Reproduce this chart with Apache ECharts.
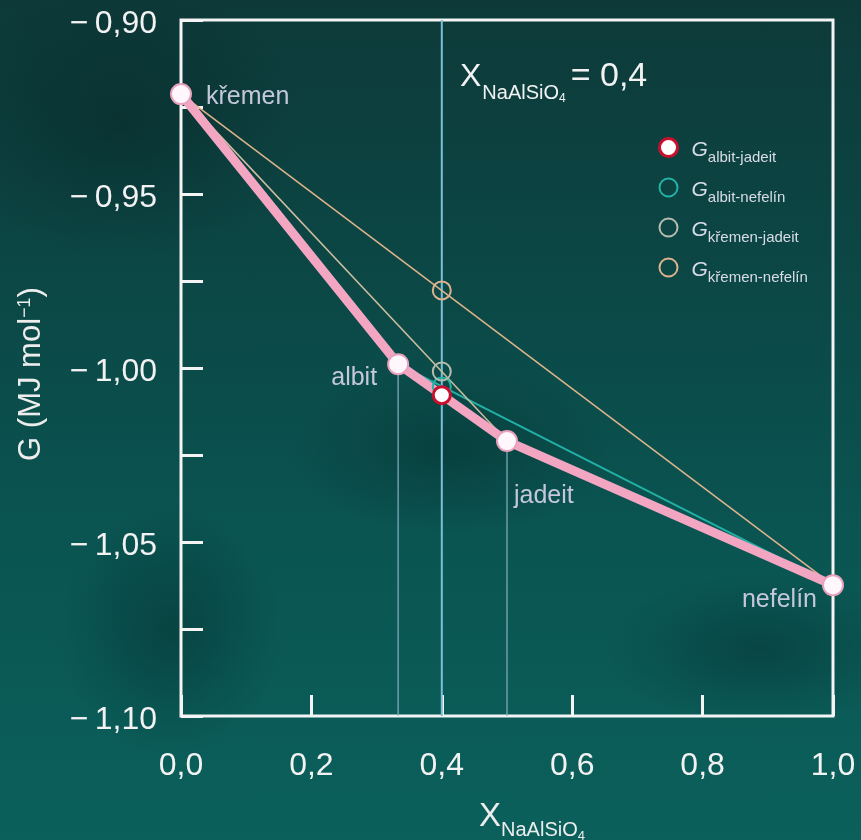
<!DOCTYPE html>
<html>
<head>
<meta charset="utf-8">
<script src="https://cdn.jsdelivr.net/npm/echarts@6/dist/echarts.min.js"></script>
<style>
html,body{margin:0;padding:0;}
body{
  width:861px;height:840px;overflow:hidden;
  background:
    radial-gradient(ellipse 230px 120px at 450px 450px, rgba(0,28,28,0.30), rgba(0,28,28,0) 70%),
    radial-gradient(ellipse 160px 180px at 170px 630px, rgba(0,25,25,0.32), rgba(0,25,25,0) 70%),
    radial-gradient(ellipse 220px 110px at 760px 650px, rgba(0,25,25,0.30), rgba(0,25,25,0) 70%),
    radial-gradient(ellipse 260px 200px at 120px 120px, rgba(5,30,30,0.40), rgba(5,30,30,0) 70%),
    linear-gradient(180deg, #0d3a39 0%, #0b4846 35%, #0a5552 65%, #0b605c 100%);
}
#chart{width:861px;height:840px;}
</style>
</head>
<body>
<div id="chart"></div>
<script>
// ---- data ----
const minerals   = ['křemen', 'albit', 'jadeit', 'nefelín'];
const mineralX   = [0, 0.333, 0.5, 1.0];
const mineralG   = [-0.9213, -0.9989, -1.0210, -1.0624];
const selectedX  = 0.4;
const gNames     = ['albit-jadeit', 'albit-nefelín', 'křemen-jadeit', 'křemen-nefelín'];
const gValues    = [-1.0078, -1.0053, -1.0010, -0.9777];
const tieLines   = [[1, 3], [0, 2], [0, 3]]; // albit–nefelín, křemen–jadeit, křemen–nefelín
const dropLines  = [1, 2];                     // albit, jadeit
const xTickValues = [0, 0.2, 0.4, 0.6, 0.8, 1.0];
const xTickLabels = ['0,0', '0,2', '0,4', '0,6', '0,8', '1,0'];
const yTickValues = [-1.10, -1.05, -1.00, -0.95, -0.90];
const yTickLabels = ['−\u20091,10', '−\u20091,05', '−\u20091,00', '−\u20090,95', '−\u20090,90'];

// ---- styles ----
const FONT = "'Liberation Sans', Arial, Helvetica, sans-serif";
const Y_MIN = -1.10, Y_MAX = -0.90;
const gBorder = ['#C8102E', '#23B3A7', '#B7BCB0', '#DDB38D'];
const gFill   = ['#FFFFFF', 'rgba(0,0,0,0)', 'rgba(0,0,0,0)', 'rgba(0,0,0,0)'];
const gBorderW = [3, 2, 2, 2];
const gZ = [9, 6, 7, 8];
const tieColors = ['#22B0A5', '#CDBF9F', '#E0B48C'];
const tieWidths = [2, 1.5, 1.5];
const labelPos = [
  {position: [36, 14], align: 'left',  verticalAlign: 'middle'},
  {position: [-10, 25], align: 'right', verticalAlign: 'middle'},
  {position: [18, 66], align: 'left',  verticalAlign: 'middle'},
  {position: [-5, 26], align: 'right', verticalAlign: 'middle'}
];

function findLabel(values, labels, v) {
  for (let i = 0; i < values.length; i++) {
    if (Math.abs(values[i] - v) < 1e-6) return labels[i];
  }
  return '';
}

const series = [];

// vertical line at selected composition
series.push({
  type: 'line', name: 'sel', z: 1, silent: true, symbol: 'none',
  lineStyle: {color: '#7DBFD9', width: 2},
  data: [[selectedX, Y_MAX], [selectedX, Y_MIN]]
});

// drop lines
dropLines.forEach(function (i) {
  series.push({
    type: 'line', name: 'drop' + i, z: 1, silent: true, symbol: 'none',
    lineStyle: {color: '#86AFC2', width: 1.2},
    data: [[mineralX[i], mineralG[i]], [mineralX[i], Y_MIN]]
  });
});

// tie lines
tieLines.forEach(function (p, k) {
  series.push({
    type: 'line', name: 'tie' + k, z: 2, silent: true, symbol: 'none',
    lineStyle: {color: tieColors[k], width: tieWidths[k]},
    data: [[mineralX[p[0]], mineralG[p[0]]], [mineralX[p[1]], mineralG[p[1]]]]
  });
});

// convex hull (pink) with mineral points
series.push({
  type: 'line', name: 'hull', z: 4, silent: true,
  symbol: 'circle', symbolSize: 20,
  lineStyle: {color: '#F2A6C1', width: 9, join: 'round'},
  itemStyle: {color: '#FFF7FB', borderColor: '#E9A2BD', borderWidth: 2},
  label: {show: true, color: '#C4C8DA', fontSize: 25, fontFamily: FONT},
  data: minerals.map(function (m, i) {
    return {
      value: [mineralX[i], mineralG[i]],
      name: m,
      label: Object.assign({formatter: m}, labelPos[i])
    };
  })
});

// G markers at selected composition
gNames.forEach(function (n, i) {
  series.push({
    type: 'scatter', name: n, z: gZ[i], silent: true,
    symbol: 'circle', symbolSize: i === 0 ? 17 : 18,
    itemStyle: {color: gFill[i], borderColor: gBorder[i], borderWidth: gBorderW[i], opacity: 1},
    data: [[selectedX, gValues[i]]]
  });
});

const chart = echarts.init(document.getElementById('chart'), null, {renderer: 'canvas'});
chart.setOption({
  animation: false,
  backgroundColor: 'transparent',
  grid: {left: 181, right: 28, top: 20, bottom: 124, show: true, outerBoundsMode: 'none',
         containLabel: false,
         borderColor: '#F4F4F4', borderWidth: 3, backgroundColor: 'transparent'},
  xAxis: {
    type: 'value', min: 0, max: 1, interval: 0.2,
    axisLine: {show: false},
    axisTick: {show: true, inside: true, length: 21, lineStyle: {color: '#F4F4F4', width: 3}},
    splitLine: {show: false},
    axisLabel: {color: '#F2F2F2', fontSize: 32, fontFamily: FONT, margin: 34,
                formatter: function (v) { return findLabel(xTickValues, xTickLabels, v); }},
    name: '{x|X}{s|NaAlSiO}{s4|4}',
    nameLocation: 'middle', nameGap: 84,
    nameTextStyle: {
      padding: [0, 0, 0, 50],
      rich: {
        x:  {fontSize: 33, color: '#EDEDED', fontFamily: FONT, verticalAlign: 'bottom', padding: [0, 0, 10, 0]},
        s:  {fontSize: 20, color: '#EDEDED', fontFamily: FONT, verticalAlign: 'bottom', padding: [0, 0, 3, 0]},
        s4: {fontSize: 13, color: '#EDEDED', fontFamily: FONT, verticalAlign: 'bottom'}
      }
    }
  },
  yAxis: {
    type: 'value', min: Y_MIN, max: Y_MAX, interval: 0.025,
    axisLine: {show: false},
    axisTick: {show: true, inside: true, length: 22, lineStyle: {color: '#F4F4F4', width: 3}},
    splitLine: {show: false},
    axisLabel: {
      margin: 24,
      formatter: function (v) {
        const t = findLabel(yTickValues, yTickLabels, v);
        return t ? '{t|' + t + '}' : '';
      },
      rich: {t: {color: '#F2F2F2', fontSize: 32, fontFamily: FONT, padding: [8, 0, 0, 0]}}
    },
    name: '{a|G (MJ mol}{sup|−1}{a|)}',
    nameLocation: 'middle', nameGap: 134, nameRotate: 90,
    nameTextStyle: {
      padding: [0, 12, 0, 0],
      rich: {
        a:   {fontSize: 31, color: '#EDEDED', fontFamily: FONT},
        sup: {fontSize: 18, color: '#EDEDED', fontFamily: FONT, verticalAlign: 'top'}
      }
    }
  },
  legend: {
    orient: 'vertical', left: 658, top: 137, padding: 0, itemGap: 12,
    itemWidth: 18, itemHeight: 18, selectedMode: false, icon: 'circle',
    data: gNames.map(function (n, i) {
      return {name: n, itemStyle: {color: gFill[i], borderColor: gBorder[i], borderWidth: gBorderW[i]}};
    }),
    formatter: function (n) { return '{g|G}{s|' + n + '}'; },
    textStyle: {
      rich: {
        g: {fontSize: 21, fontStyle: 'italic', color: '#D9DCE6', fontFamily: FONT,
            verticalAlign: 'bottom', padding: [10, 0, 5, 9]},
        s: {fontSize: 15, color: '#D9DCE6', fontFamily: FONT, verticalAlign: 'bottom'}
      }
    }
  },
  graphic: [{
    type: 'text', left: 460, top: 60, silent: true,
    style: {
      text: '{x|X}{s|NaAlSiO}{s4|4}{e|= 0,4}',
      rich: {
        x:  {fontSize: 32, fill: '#F2F2F2', fontFamily: FONT, verticalAlign: 'bottom', padding: [0, 0, 12, 0]},
        s:  {fontSize: 20, fill: '#F2F2F2', fontFamily: FONT, verticalAlign: 'bottom', padding: [0, 0, 2, 1]},
        s4: {fontSize: 12, fill: '#F2F2F2', fontFamily: FONT, verticalAlign: 'bottom'},
        e:  {fontSize: 34, fill: '#F2F2F2', fontFamily: FONT, verticalAlign: 'bottom', padding: [0, 0, 11, 5]}
      }
    }
  }],
  series: series
});
</script>
</body>
</html>
